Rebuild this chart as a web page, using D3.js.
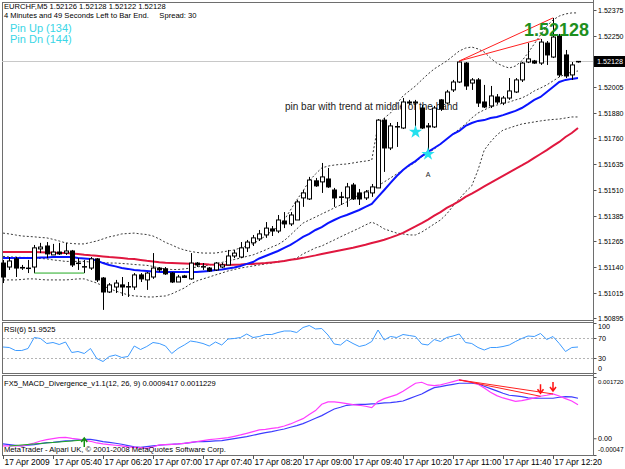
<!DOCTYPE html>
<html>
<head>
  <title>EURCHF,M5</title>
  <script src="https://d3js.org/d3.v7.min.js"></script>
  <style>
    body { margin: 0; background: #fff; }
    text { font-family: "Liberation Sans", Arial, sans-serif; }
  </style>
</head>
<body>
  <svg id="chart"></svg>

  <script>
    // ---- data (bar 0 = 17 Apr 05:00, M5 bars) ----
    var opens = [1.51159,1.51140,1.51179,1.51135,1.51135,1.51140,1.51227,1.51241,1.51198,1.51212,
      1.51207,1.51217,1.51159,1.51140,1.51135,1.51179,1.51087,1.51020,1.51044,1.51054,
      1.51044,1.51044,1.51102,1.51078,1.51092,1.51135,1.51131,1.51111,1.51068,1.51097,
      1.51083,1.51159,1.51140,1.51135,1.51126,1.51140,1.51150,1.51193,1.51188,1.51232,
      1.51256,1.51275,1.51294,1.51323,1.51313,1.51361,1.51347,1.51366,1.51472,1.51467,
      1.51554,1.51549,1.51563,1.51510,1.51477,1.51472,1.51534,1.51496,1.51472,1.51496,
      1.51520,1.51846,1.51712,1.51813,1.51808,1.51933,1.51928,1.51904,1.51813,1.51813,
      1.51943,1.51928,1.51991,1.52029,1.52120,1.52024,1.52039,1.51933,1.51914,1.51957,
      1.51928,1.51952,1.51981,1.52039,1.52125,1.52130,1.52120,1.52216,1.52149,1.52250,
      1.52159,1.52063,1.52126];
    var highs = [1.51174,1.51188,1.51188,1.51150,1.51174,1.51246,1.51256,1.51260,1.51251,1.51256,
      1.51256,1.51222,1.51183,1.51174,1.51188,1.51183,1.51092,1.51063,1.51078,1.51092,
      1.51068,1.51111,1.51111,1.51116,1.51207,1.51140,1.51140,1.51116,1.51102,1.51102,
      1.51207,1.51164,1.51159,1.51140,1.51164,1.51159,1.51222,1.51222,1.51260,1.51270,
      1.51294,1.51318,1.51356,1.51337,1.51390,1.51404,1.51404,1.51462,1.51510,1.51573,
      1.51568,1.51640,1.51616,1.51520,1.51501,1.51544,1.51544,1.51515,1.51510,1.51539,
      1.51851,1.51856,1.51832,1.51837,1.51952,1.51943,1.51943,1.51918,1.51832,1.51914,
      1.51947,1.51991,1.52039,1.52130,1.52125,1.52048,1.52048,1.52015,1.52010,1.51971,
      1.51962,1.52048,1.52048,1.52125,1.52216,1.52135,1.52236,1.52226,1.52337,1.52260,
      1.52183,1.52125,1.52128];
    var lows = [1.51063,1.51126,1.51092,1.51126,1.51111,1.51111,1.51207,1.51183,1.51198,1.51198,
      1.51198,1.51140,1.51126,1.51111,1.51126,1.51068,1.50934,1.51015,1.51015,1.51001,
      1.50996,1.51030,1.51068,1.51030,1.51083,1.51116,1.51102,1.51063,1.51068,1.51087,
      1.51078,1.51140,1.51126,1.51116,1.51121,1.51135,1.51150,1.51183,1.51183,1.51212,
      1.51241,1.51265,1.51280,1.51289,1.51303,1.51327,1.51337,1.51366,1.51429,1.51462,
      1.51525,1.51496,1.51520,1.51429,1.51438,1.51429,1.51462,1.51438,1.51462,1.51477,
      1.51520,1.51597,1.51702,1.51717,1.51803,1.51918,1.51808,1.51803,1.51702,1.51808,
      1.51890,1.51923,1.51981,1.52024,1.51991,1.51991,1.51909,1.51904,1.51904,1.51923,
      1.51918,1.51943,1.51976,1.52029,1.52120,1.52116,1.52111,1.52111,1.52144,1.52053,
      1.52048,1.52039,1.52122];
    var closes = [1.51092,1.51169,1.51135,1.51138,1.51133,1.51232,1.51236,1.51203,1.51212,1.51203,
      1.51217,1.51150,1.51157,1.51142,1.51179,1.51078,1.51020,1.51054,1.51063,1.51044,
      1.51046,1.51102,1.51083,1.51111,1.51135,1.51126,1.51107,1.51068,1.51092,1.51090,
      1.51159,1.51150,1.51142,1.51121,1.51159,1.51150,1.51193,1.51207,1.51232,1.51260,
      1.51280,1.51299,1.51327,1.51313,1.51366,1.51347,1.51390,1.51453,1.51496,1.51558,
      1.51530,1.51573,1.51525,1.51472,1.51475,1.51525,1.51467,1.51467,1.51501,1.51525,
      1.51846,1.51712,1.51818,1.51815,1.51933,1.51928,1.51933,1.51808,1.51818,1.51904,
      1.51899,1.51981,1.52029,1.52125,1.52010,1.52039,1.51928,1.51909,1.51962,1.51933,
      1.51952,1.51986,1.52039,1.52120,1.52140,1.52120,1.52221,1.52159,1.52245,1.52063,
      1.52058,1.52111,1.52128];

    var blueMA = [1.51183,1.51183,1.51183,1.51183,1.51183,1.51183,1.51186,1.51186,1.51188,1.51188,
      1.51188,1.51188,1.51183,1.51181,1.51179,1.51171,1.51159,1.51150,1.51143,1.51135,
      1.51131,1.51126,1.51123,1.51121,1.51119,1.51116,1.51116,1.51116,1.51116,1.51116,
      1.51116,1.51116,1.51119,1.51121,1.51126,1.51128,1.51133,1.51138,1.51145,1.51155,
      1.51164,1.51181,1.51193,1.51205,1.51217,1.51232,1.51246,1.51265,1.51285,1.51299,
      1.51318,1.51332,1.51351,1.51366,1.51380,1.51390,1.51402,1.51414,1.51429,1.51443,
      1.51477,1.51510,1.51544,1.51577,1.51606,1.51630,1.51649,1.51673,1.51693,1.51712,
      1.51731,1.51755,1.51779,1.51794,1.51818,1.51832,1.51842,1.51846,1.51856,1.51861,
      1.51870,1.51880,1.51890,1.51904,1.51923,1.51943,1.51957,1.51981,1.52005,1.52029,
      1.52039,1.52044,1.52048];
    var redMA = [1.51212,1.51212,1.51212,1.51212,1.51212,1.51212,1.51211,1.51210,1.51209,1.51207,
      1.51207,1.51205,1.51203,1.51199,1.51196,1.51194,1.51191,1.51188,1.51186,1.51183,
      1.51180,1.51178,1.51174,1.51170,1.51167,1.51163,1.51160,1.51159,1.51158,1.51157,
      1.51156,1.51155,1.51154,1.51152,1.51151,1.51151,1.51150,1.51151,1.51152,1.51154,
      1.51155,1.51157,1.51159,1.51162,1.51165,1.51169,1.51175,1.51179,1.51184,1.51190,
      1.51196,1.51203,1.51209,1.51215,1.51221,1.51227,1.51233,1.51240,1.51247,1.51255,
      1.51263,1.51271,1.51281,1.51292,1.51304,1.51320,1.51335,1.51351,1.51368,1.51387,
      1.51404,1.51424,1.51440,1.51457,1.51477,1.51493,1.51510,1.51527,1.51544,1.51561,
      1.51578,1.51595,1.51612,1.51628,1.51645,1.51664,1.51683,1.51702,1.51722,1.51741,
      1.51765,1.51784,1.51808];

    var bandUpper = [1.51303,1.51299,1.51294,1.51289,1.51287,1.51285,1.51282,1.51280,1.51273,1.51265,
      1.51256,1.51253,1.51251,1.51251,1.51258,1.51265,1.51275,1.51285,1.51291,1.51299,
      1.51301,1.51303,1.51299,1.51296,1.51289,1.51275,1.51258,1.51246,1.51232,1.51222,
      1.51215,1.51210,1.51207,1.51207,1.51207,1.51212,1.51217,1.51222,1.51232,1.51241,
      1.51251,1.51270,1.51289,1.51313,1.51332,1.51366,1.51414,1.51462,1.51505,1.51554,
      1.51587,1.51616,1.51625,1.51630,1.51633,1.51635,1.51640,1.51645,1.51649,1.51654,
      1.51822,1.51856,1.51880,1.51923,1.51962,1.51986,1.52010,1.52039,1.52067,1.52092,
      1.52111,1.52130,1.52154,1.52178,1.52192,1.52197,1.52188,1.52173,1.52144,1.52120,
      1.52106,1.52096,1.52106,1.52130,1.52168,1.52212,1.52255,1.52298,1.52327,1.52346,
      1.52356,1.52361,1.52361];
    var bandMiddle = [1.51191,1.51188,1.51188,1.51186,1.51186,1.51183,1.51181,1.51179,1.51174,1.51171,
      1.51167,1.51167,1.51167,1.51167,1.51164,1.51164,1.51162,1.51159,1.51159,1.51157,
      1.51155,1.51152,1.51150,1.51148,1.51143,1.51135,1.51131,1.51128,1.51128,1.51131,
      1.51135,1.51140,1.51145,1.51150,1.51155,1.51162,1.51169,1.51176,1.51183,1.51191,
      1.51198,1.51210,1.51222,1.51236,1.51248,1.51267,1.51294,1.51323,1.51351,1.51366,
      1.51380,1.51395,1.51409,1.51424,1.51438,1.51453,1.51472,1.51486,1.51501,1.51515,
      1.51530,1.51549,1.51568,1.51587,1.51606,1.51625,1.51645,1.51669,1.51688,1.51707,
      1.51731,1.51755,1.51779,1.51803,1.51827,1.51856,1.51880,1.51895,1.51909,1.51918,
      1.51928,1.51933,1.51943,1.51952,1.51967,1.51986,1.52000,1.52015,1.52034,1.52053,
      1.52067,1.52077,1.52082];
    var bandLower = [1.51078,1.51078,1.51078,1.51080,1.51083,1.51083,1.51080,1.51078,1.51078,1.51078,
      1.51078,1.51080,1.51083,1.51083,1.51073,1.51063,1.51049,1.51037,1.51025,1.51015,
      1.51006,1.51001,1.50999,1.50996,1.50996,1.50999,1.51001,1.51011,1.51025,1.51039,
      1.51059,1.51073,1.51083,1.51092,1.51102,1.51111,1.51121,1.51128,1.51135,1.51140,
      1.51145,1.51150,1.51155,1.51159,1.51164,1.51169,1.51174,1.51183,1.51203,1.51217,
      1.51232,1.51241,1.51256,1.51270,1.51285,1.51299,1.51313,1.51327,1.51342,1.51356,
      1.51342,1.51323,1.51313,1.51303,1.51299,1.51294,1.51294,1.51308,1.51327,1.51347,
      1.51366,1.51395,1.51433,1.51467,1.51501,1.51530,1.51606,1.51702,1.51741,1.51774,
      1.51798,1.51808,1.51818,1.51827,1.51832,1.51837,1.51842,1.51846,1.51849,1.51851,
      1.51856,1.51861,1.51861];

    var rsiValues = [52,51,45,45,49,71,69,59,61,57,62,41,43,39,49,29,23,33,36,31,
      33,54,47,53,61,59,54,39,49,56,64,62,59,54,62,56,68,69,71,78,
      71,73,77,77,81,84,84,81,91,95,88,89,76,58,56,66,59,53,56,63,
      86,66,73,71,77,75,73,58,56,67,63,71,74,78,61,59,51,46,51,51,
      53,56,63,69,74,73,79,67,73,59,43,51,51.9525];

    var macdMain = [-2.16e-4,-2.16e-4,-2.16e-4,-2.16e-4,-1.79e-4,-1.32e-4,-0.76e-4,-0.38e-4,-0.10e-4,0.18e-4,
      0.27e-4,-0.01e-4,-0.20e-4,-0.48e-4,-0.85e-4,-1.32e-4,-1.60e-4,-1.79e-4,-1.97e-4,-2.16e-4,
      -2.44e-4,-2.54e-4,-2.63e-4,-2.82e-4,-2.44e-4,-1.88e-4,-1.79e-4,-1.69e-4,-1.60e-4,-1.41e-4,
      -1.13e-4,-0.95e-4,-0.66e-4,-0.38e-4,-0.20e-4,-0.01e-4,0.18e-4,0.55e-4,0.93e-4,1.39e-4,
      1.86e-4,2.33e-4,2.52e-4,2.80e-4,2.99e-4,3.45e-4,4.02e-4,4.76e-4,5.51e-4,6.64e-4,
      7.76e-4,9.54e-4,10.19e-4,10.19e-4,10.01e-4,9.72e-4,9.44e-4,9.26e-4,8.98e-4,8.60e-4,
      10.29e-4,11.13e-4,11.69e-4,12.25e-4,13.19e-4,14.31e-4,15.44e-4,15.72e-4,14.97e-4,14.78e-4,
      14.97e-4,15.44e-4,15.90e-4,16.37e-4,16.09e-4,15.72e-4,15.15e-4,14.12e-4,12.91e-4,11.97e-4,
      11.32e-4,10.85e-4,10.38e-4,10.57e-4,10.94e-4,11.32e-4,11.79e-4,12.07e-4,12.44e-4,11.88e-4,
      11.13e-4,10.47e-4,9.417e-4];
    var macdSignal = [-1.60e-4,-1.79e-4,-1.97e-4,-2.16e-4,-1.97e-4,-1.79e-4,-1.50e-4,-1.22e-4,-1.13e-4,-0.95e-4,
      -0.76e-4,-0.66e-4,-0.48e-4,-0.29e-4,-0.29e-4,-0.57e-4,-0.95e-4,-1.13e-4,-1.41e-4,-1.69e-4,
      -2.07e-4,-2.44e-4,-2.54e-4,-2.35e-4,-2.16e-4,-1.97e-4,-1.79e-4,-1.69e-4,-1.60e-4,-1.41e-4,
      -1.22e-4,-0.95e-4,-0.95e-4,-0.85e-4,-0.76e-4,-0.66e-4,-0.38e-4,-0.10e-4,0.18e-4,0.46e-4,
      0.84e-4,1.21e-4,1.59e-4,1.86e-4,2.24e-4,2.61e-4,3.08e-4,3.55e-4,4.11e-4,4.86e-4,
      5.61e-4,6.36e-4,7.30e-4,8.23e-4,8.70e-4,9.26e-4,9.44e-4,9.54e-4,9.54e-4,9.63e-4,
      9.72e-4,9.91e-4,10.01e-4,10.19e-4,10.47e-4,11.13e-4,11.79e-4,12.44e-4,13.38e-4,14.22e-4,
      14.50e-4,14.87e-4,15.15e-4,15.44e-4,15.44e-4,15.44e-4,15.25e-4,14.59e-4,13.94e-4,13.29e-4,
      12.63e-4,12.07e-4,11.88e-4,11.69e-4,11.32e-4,11.23e-4,11.23e-4,11.23e-4,11.23e-4,11.51e-4,
      11.69e-4,11.60e-4,11.229e-4];

    var priceTicks = [1.52375, 1.52250, 1.52005, 1.51880, 1.51760, 1.51635, 1.51510, 1.51385, 1.51265, 1.51140, 1.51015, 1.50895];
    var bidPrice = 1.52128;
    var rsiTicks = [100, 70, 30, 0];
    var rsiLevels = [70, 30];
    var macdTicks = [0.00172, 0, -0.00047];
    var macdTickLabels = ["0.001720", "0.00", "-0.00047"];
    var timeLabelBars = [0, 8, 16, 24, 32, 40, 48, 56, 64, 72, 80, 88];
    var timeLabels = ["17 Apr 2009", "17 Apr 05:40", "17 Apr 06:20", "17 Apr 07:00", "17 Apr 07:40", "17 Apr 08:20",
      "17 Apr 09:00", "17 Apr 09:40", "17 Apr 10:20", "17 Apr 11:00", "17 Apr 11:40", "17 Apr 12:20"];

    // signals drawn by the indicators
    var pinBars = [66, 68];
    var bearDivFrom = 73, bearDivTo = [86, 88];
    var bullDivFrom = 5, bullDivTo = 13;
    var macdBullFrom = 1;

    // ---- layout ----
    var width = 625, height = 469;
    var left = 2, right = 593;
    var mainTop = 2, mainBottom = 320;
    var rsiTop = 322, rsiBottom = 373;
    var macdTop = 375, macdBottom = 455;

    var svg = d3.select("#chart")
      .attr("width", width)
      .attr("height", height)
      .style("display", "block");

    svg.append("rect").attr("width", width).attr("height", height).attr("fill", "#fff");

    var x = d3.scaleLinear().domain([0, 92]).range([3, 578]);
    var yPrice = d3.scaleLinear().domain([1.50895, 1.52375]).range([318, 10]);
    var yRsi = d3.scaleLinear().domain([0, 100]).range([373, 323]);
    var yMacd = d3.scaleLinear().domain([-0.00047, 0.00172]).range([455, 377]);

    var bars = d3.range(opens.length);

    // panel frames
    [[mainTop, mainBottom], [rsiTop, rsiBottom], [macdTop, macdBottom]].forEach(function(p) {
      svg.append("rect")
        .attr("x", left + 0.5).attr("y", p[0] + 0.5)
        .attr("width", right - left).attr("height", p[1] - p[0])
        .attr("fill", "none").attr("stroke", "#6e6e6e");
    });

    // ---- main window ----
    var main = svg.append("g");

    main.append("line")
      .attr("x1", left).attr("x2", right)
      .attr("y1", Math.round(yPrice(bidPrice)) + 0.5).attr("y2", Math.round(yPrice(bidPrice)) + 0.5)
      .attr("stroke", "#c8c8c8");

    main.append("text")
      .attr("x", 285).attr("y", 110)
      .style("font-size", "10px").attr("fill", "#222")
      .text("pin bar with trend at middle of the band");

    function priceLine(values) {
      return d3.line()
        .x(function(d, i) { return x(i); })
        .y(function(d) { return yPrice(d); })(values);
    }

    [bandUpper, bandMiddle, bandLower].forEach(function(b) {
      main.append("path")
        .attr("d", priceLine(b))
        .attr("fill", "none").attr("stroke", "#3a3a3a")
        .attr("stroke-width", 1).attr("stroke-dasharray", "2,2");
    });

    main.append("path").attr("d", priceLine(redMA))
      .attr("fill", "none").attr("stroke", "#e0173f").attr("stroke-width", 2);
    main.append("path").attr("d", priceLine(blueMA))
      .attr("fill", "none").attr("stroke", "#0a14ff").attr("stroke-width", 2);

    // candles
    var candle = main.selectAll(".candle").data(bars).enter().append("g").attr("class", "candle");
    candle.append("line")
      .attr("x1", function(i) { return Math.round(x(i)) + 0.5; })
      .attr("x2", function(i) { return Math.round(x(i)) + 0.5; })
      .attr("y1", function(i) { return yPrice(highs[i]); })
      .attr("y2", function(i) { return yPrice(lows[i]); })
      .attr("stroke", "#000");
    candle.append("rect")
      .attr("x", function(i) { return Math.round(x(i)) - 1.5; })
      .attr("y", function(i) { return yPrice(Math.max(opens[i], closes[i])); })
      .attr("width", 4)
      .attr("height", function(i) { return Math.max(0.5, Math.abs(yPrice(opens[i]) - yPrice(closes[i]))); })
      .attr("fill", function(i) { return closes[i] >= opens[i] ? "#fff" : "#000"; })
      .attr("stroke", "#000");

    // divergence lines on price
    bearDivTo.forEach(function(j) {
      main.append("line")
        .attr("x1", x(bearDivFrom)).attr("y1", yPrice(highs[bearDivFrom]))
        .attr("x2", x(j)).attr("y2", yPrice(highs[j]))
        .attr("stroke", "#ff2020").attr("stroke-width", 1);
    });
    main.append("line")
      .attr("x1", x(bullDivFrom)).attr("y1", yPrice(lows[bullDivFrom]))
      .attr("x2", x(bullDivTo)).attr("y2", yPrice(lows[bullDivTo]))
      .attr("stroke", "#22aa22").attr("stroke-width", 1);

    // pin bar stars
    main.selectAll(".star").data(pinBars).enter().append("path")
      .attr("d", d3.symbol().type(d3.symbolStar).size(55))
      .attr("transform", function(i) { return "translate(" + x(i) + "," + (yPrice(lows[i]) + 4) + ")"; })
      .attr("fill", "#25e0ee");

    main.append("text")
      .attr("x", x(pinBars[1])).attr("y", yPrice(lows[pinBars[1]]) + 27)
      .attr("text-anchor", "middle")
      .style("font-size", "7px").attr("fill", "#222").text("A");

    // info texts
    main.append("text").attr("x", 4).attr("y", 9)
      .style("font-size", "7.6px").attr("fill", "#000")
      .text("EURCHF,M5  1.52126 1.52128 1.52122 1.52128");
    main.append("text").attr("x", 4).attr("y", 18)
      .style("font-size", "7.6px").attr("fill", "#000").attr("xml:space", "preserve")
      .text("4 Minutes and 49 Seconds Left to Bar End.     Spread: 30");
    main.append("text").attr("x", 10).attr("y", 32)
      .style("font-size", "11px").attr("fill", "#3ad6e6").text("Pin Up (134)");
    main.append("text").attr("x", 10).attr("y", 43)
      .style("font-size", "11px").attr("fill", "#3ad6e6").text("Pin Dn (144)");

    main.append("text").attr("x", 589).attr("y", 36)
      .attr("text-anchor", "end")
      .style("font-size", "18px").style("font-weight", "bold").attr("fill", "#1e8f1e")
      .text(d3.format(".5f")(bidPrice));

    // ---- RSI window ----
    var rsi = svg.append("g");
    rsiLevels.forEach(function(v) {
      rsi.append("line")
        .attr("x1", left + 1).attr("x2", right)
        .attr("y1", Math.round(yRsi(v)) + 0.5).attr("y2", Math.round(yRsi(v)) + 0.5)
        .attr("stroke", "#b4b4b4").attr("stroke-dasharray", "2,2");
    });
    rsi.append("path")
      .attr("d", d3.line().x(function(d, i) { return x(i); }).y(function(d) { return yRsi(d); })(rsiValues))
      .attr("fill", "none").attr("stroke", "#3d9bff").attr("stroke-width", 1);
    rsi.append("text").attr("x", 4).attr("y", 332)
      .style("font-size", "7.6px").attr("fill", "#000")
      .text("RSI(6) " + d3.format(".4f")(rsiValues[rsiValues.length - 1]));

    // ---- MACD window ----
    var macd = svg.append("g");
    function macdLine(values) {
      return d3.line().x(function(d, i) { return x(i); }).y(function(d) { return yMacd(d); })(values);
    }
    macd.append("path").attr("d", macdLine(macdSignal))
      .attr("fill", "none").attr("stroke", "#3c3cff").attr("stroke-width", 1.2);
    macd.append("path").attr("d", macdLine(macdMain))
      .attr("fill", "none").attr("stroke", "#ff3cff").attr("stroke-width", 1.2);

    bearDivTo.forEach(function(j) {
      macd.append("line")
        .attr("x1", x(bearDivFrom)).attr("y1", yMacd(macdMain[bearDivFrom]))
        .attr("x2", x(j)).attr("y2", yMacd(macdMain[j]))
        .attr("stroke", "#ff2020").attr("stroke-width", 1);
      var ax = x(j), ay = yMacd(macdMain[j]) - 3;
      macd.append("path")
        .attr("d", "M" + ax + "," + (ay - 9) + "V" + ay + "M" + (ax - 3) + "," + (ay - 4) + "L" + ax + "," + ay + "L" + (ax + 3) + "," + (ay - 4))
        .attr("fill", "none").attr("stroke", "#ff1010").attr("stroke-width", 1.5);
    });
    macd.append("line")
      .attr("x1", x(macdBullFrom)).attr("y1", yMacd(macdMain[macdBullFrom]))
      .attr("x2", x(bullDivTo)).attr("y2", yMacd(macdMain[bullDivTo]))
      .attr("stroke", "#22aa22").attr("stroke-width", 1);
    var gx = x(bullDivTo), gy = yMacd(macdMain[bullDivTo]) - 2;
    macd.append("path")
      .attr("d", "M" + gx + "," + (gy + 9) + "V" + gy + "M" + (gx - 3) + "," + (gy + 4) + "L" + gx + "," + gy + "L" + (gx + 3) + "," + (gy + 4))
      .attr("fill", "none").attr("stroke", "#109010").attr("stroke-width", 1.5);

    macd.append("text").attr("x", 4).attr("y", 386)
      .style("font-size", "7.6px").attr("fill", "#000")
      .text("FX5_MACD_Divergence_v1.1(12, 26, 9) " + d3.format(".7f")(macdMain[92]) + " " + d3.format(".7f")(macdSignal[92]));
    macd.append("text").attr("x", 4).attr("y", 452)
      .style("font-size", "7.6px").attr("fill", "#000")
      .text("MetaTrader - Alpari UK, \u00a9 2001-2008 MetaQuotes Software Corp.");

    // ---- right axes ----
    var axisFontSize = 7.2;
    var priceAxis = svg.append("g").attr("transform", "translate(" + (right + 0.5) + ",0)")
      .call(d3.axisRight(yPrice).tickValues(priceTicks).tickFormat(d3.format(".5f")).tickSize(3).tickPadding(1.5));
    var rsiAxis = svg.append("g").attr("transform", "translate(" + (right + 0.5) + ",0)")
      .call(d3.axisRight(yRsi).tickValues(rsiTicks).tickSize(3).tickPadding(1.5));
    var macdAxis = svg.append("g").attr("transform", "translate(" + (right + 0.5) + ",0)")
      .call(d3.axisRight(yMacd).tickValues(macdTicks).tickFormat(function(d, i) { return macdTickLabels[i]; }).tickSize(3).tickPadding(1.5));

    [priceAxis, rsiAxis, macdAxis].forEach(function(a) {
      a.select(".domain").remove();
      a.selectAll("line").attr("stroke", "#555");
      a.selectAll("text")
        .style("font-size", axisFontSize + "px")
        .style("font-family", "Liberation Sans, Arial, sans-serif")
        .attr("fill", "#000")
        .each(function() {
          // shrink long labels so they stay inside the window
          var room = 25.5;
          var len = this.getComputedTextLength();
          if (len > room) {
            d3.select(this).style("font-size", (axisFontSize * room / len).toFixed(2) + "px");
          }
        });
    });
    // end labels sit inside the window, as in the terminal
    rsiAxis.selectAll("text").attr("dy", function(d) { return d === 100 ? "0.75em" : (d === 0 ? "-0.3em" : "0.32em"); });
    macdAxis.selectAll("text").attr("dy", function(d, i) { return i === 0 ? "1.1em" : (i === 2 ? "-0.5em" : "0.32em"); });

    svg.append("line")
      .attr("x1", right + 0.5).attr("x2", right + 0.5).attr("y1", 0).attr("y2", macdBottom + 1)
      .attr("stroke", "#6e6e6e");

    // bid price box
    var by = Math.round(yPrice(bidPrice));
    svg.append("rect").attr("x", right + 1).attr("y", by - 5).attr("width", width - right).attr("height", 11).attr("fill", "#000");
    svg.append("text").attr("x", right + 4).attr("y", by + 3)
      .style("font-size", axisFontSize + "px").attr("fill", "#fff").text(d3.format(".5f")(bidPrice));

    // ---- time axis ----
    var timeAxis = svg.append("g");
    timeLabelBars.forEach(function(b, k) {
      var tx = Math.round(x(b)) + 0.5;
      timeAxis.append("line").attr("x1", tx).attr("x2", tx).attr("y1", macdBottom).attr("y2", macdBottom + 4).attr("stroke", "#555");
      timeAxis.append("text").attr("x", tx + 1).attr("y", 465)
        .style("font-size", "8.4px").attr("fill", "#000").text(timeLabels[k]);
    });
  </script>
</body>
</html>
